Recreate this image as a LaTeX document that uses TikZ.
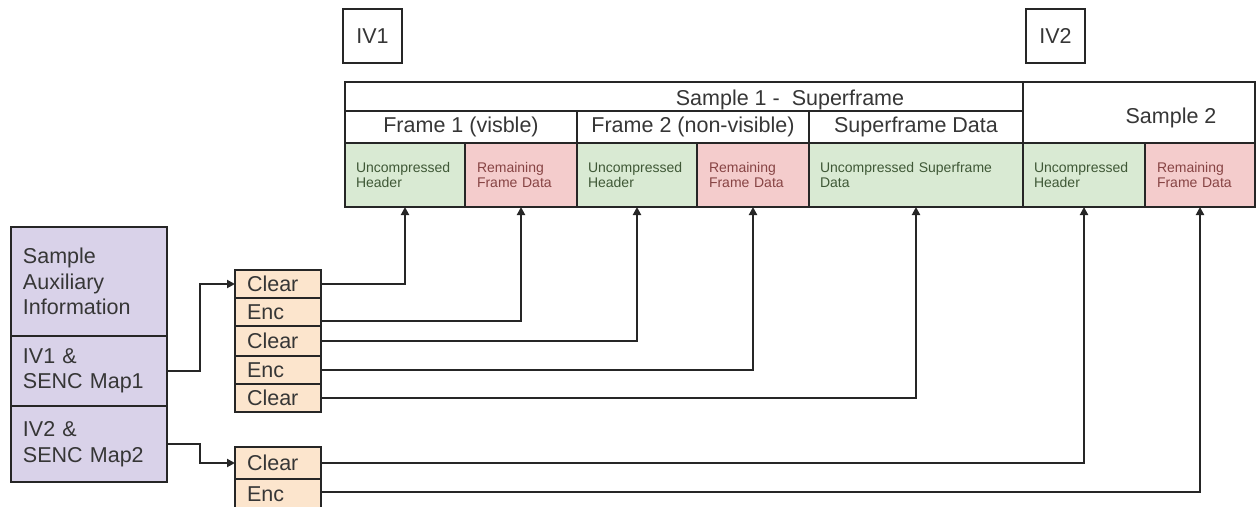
\documentclass[tikz,border=0pt]{standalone}
\usepackage{fontspec}
\setmainfont{Liberation Sans}
\usetikzlibrary{arrows.meta}
\definecolor{lc}{HTML}{262626}
\definecolor{tc}{HTML}{363636}
\definecolor{purp}{HTML}{D9D2E9}
\definecolor{orng}{HTML}{FCE5CD}
\definecolor{grn}{HTML}{D9EAD3}
\definecolor{pnk}{HTML}{F4CCCC}
\definecolor{gtxt}{HTML}{3F5836}
\definecolor{rtxt}{HTML}{874444}
\newcommand{\bigf}{\fontsize{21.5}{25.5}\selectfont}
\newcommand{\smallf}{\fontsize{14}{15}\selectfont}
\begin{document}
\begin{tikzpicture}[x=1pt,y=-1pt,
  box/.style={draw=lc, line width=2pt, anchor=north west, inner sep=0pt, outer sep=0pt, font=\bigf, text=tc},
  cellg/.style={box, fill=grn, font=\smallf, text=gtxt, align=left, inner xsep=11pt, minimum height=64pt},
  cellr/.style={box, fill=pnk, font=\smallf, text=rtxt, align=left, inner xsep=12pt, minimum height=64pt},
  purpbox/.style={box, fill=purp, align=left, inner xsep=12pt, text width=132pt, minimum width=156pt},
  stk/.style={box, fill=orng, align=left, inner xsep=12pt, text width=62pt, minimum width=86pt, minimum height=28pt},
  conn/.style={draw=lc, line width=2pt, -{Triangle[length=8pt,width=8pt]}},
  lbl/.style={font=\bigf, text=tc, anchor=base, inner sep=0pt},
]
\useasboundingbox (0,0) rectangle (1257,506);
\clip (0,0) rectangle (1257,506);

% IV boxes
\node[box, minimum width=59pt, minimum height=54pt] (iv1) at (343,9) {IV1};
\node[box, minimum width=59pt, minimum height=54pt] (iv2) at (1026,9) {IV2};

% header rows
\node[box, fill=white, minimum width=678pt, minimum height=29pt] (s1) at (345,82) {};
\node[lbl] (s1t) at (790,105) {Sample 1 -\ \ Superframe};
\node[box, fill=white, minimum width=232pt, minimum height=61pt] (s2) at (1023,82) {};
\node[lbl] (s2t) at (1171,123) {Sample 2};
\node[box, minimum width=232pt, minimum height=32pt] (f1) at (345,111) {Frame 1 (visble)};
\node[box, minimum width=232pt, minimum height=32pt] (f2) at (577,111) {Frame 2 (non-visible)};
\node[box, minimum width=214pt, minimum height=32pt] (sfd) at (809,111) {Superframe Data};

% cells
\node[cellg, text width=98pt] (uh1) at (345,143) {Uncompressed\\Header};
\node[cellr, text width=88pt] (rf1) at (465,143) {Remaining\\Frame Data};
\node[cellg, text width=98pt] (uh2) at (577,143) {Uncompressed\\Header};
\node[cellr, text width=88pt] (rf2) at (697,143) {Remaining\\Frame Data};
\node[cellg, text width=192pt] (usd) at (809,143) {Uncompressed Superframe\\Data};
\node[cellg, text width=100pt] (uh3) at (1023,143) {Uncompressed\\Header};
\node[cellr, text width=86pt] (rf3) at (1145,143) {Remaining\\Frame Data};

% auxiliary information
\node[purpbox, minimum height=109pt] (aux) at (11,227) {Sample\\Auxiliary\\Information};
\node[purpbox, minimum height=70pt] (m1) at (11,336) {IV1 \&\\SENC Map1};
\node[purpbox, minimum height=76pt] (m2) at (11,406) {IV2 \&\\SENC Map2};

% subsample stacks
\node[stk] (c1a) at (235,270) {Clear};
\node[stk] (e1a) at (235,298) {Enc};
\node[stk, minimum height=30pt] (c1b) at (235,326) {Clear};
\node[stk] (e1b) at (235,356) {Enc};
\node[stk] (c1c) at (235,384) {Clear};
\node[stk, minimum height=32pt] (c2a) at (235,447) {Clear};
\node[stk, minimum height=30pt] (e2a) at (235,479) {Enc};

% connectors
\draw[conn] (m1.east) -- ++(33,0) |- (c1a.west);
\draw[conn] (m2.east) -- ++(33,0) |- (c2a.west);
\draw[conn] (c1a.east) -| (uh1.south);
\draw[conn] ([yshift=-9pt]e1a.east) -| (rf1.south);
\draw[conn] (c1b.east) -| (uh2.south);
\draw[conn] (e1b.east) -| (rf2.south);
\draw[conn] (c1c.east) -| (usd.south);
\draw[conn] (c2a.east) -| (uh3.south);
\draw[conn] ([yshift=2pt]e2a.east) -| (rf3.south);
\end{tikzpicture}
\end{document}
